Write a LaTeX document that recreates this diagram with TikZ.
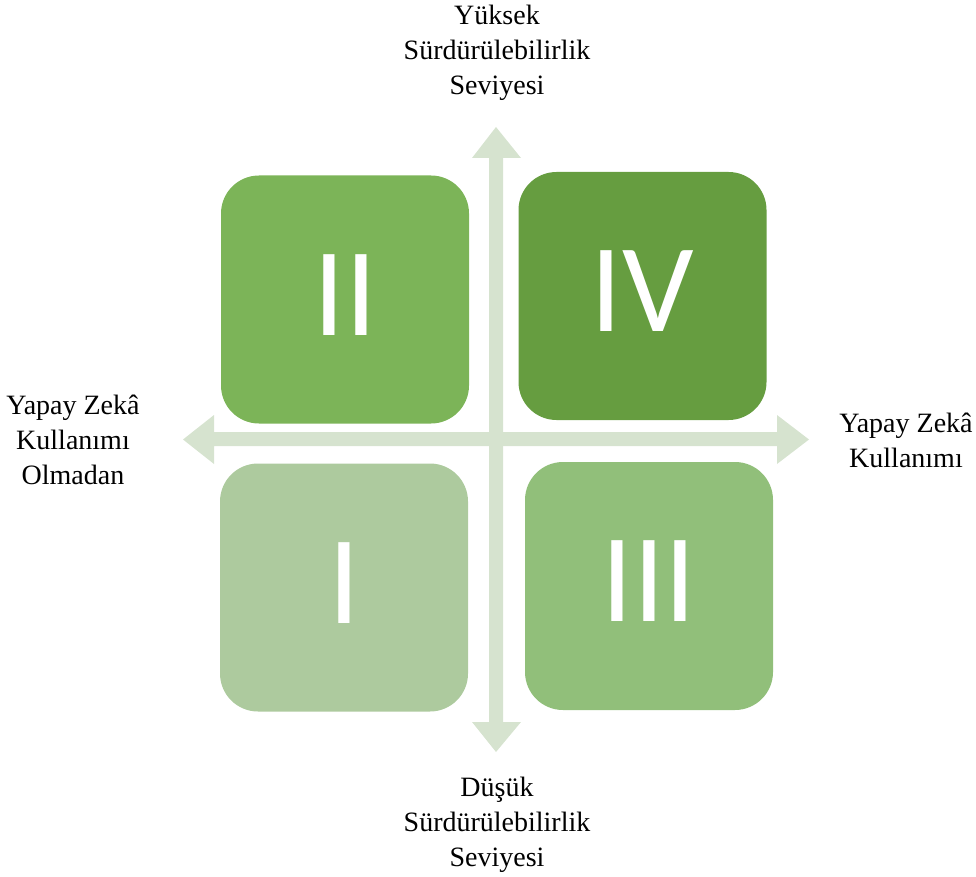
\documentclass[tikz,border=0pt]{standalone}
\usepackage{fontspec}
\setmainfont{Liberation Serif}
\newfontfamily\numfont{Carlito}
\definecolor{axisgreen}{RGB}{214,227,207}
\definecolor{quadone}{RGB}{173,202,158}
\definecolor{quadtwo}{RGB}{124,180,88}
\definecolor{quadthree}{RGB}{145,191,122}
\definecolor{quadfour}{RGB}{102,157,64}

\begin{document}
\begin{tikzpicture}[x=1pt, y=-1pt,
  axislabel/.style={align=center, inner sep=0pt, font=\fontsize{28}{35}\selectfont},
  quad/.style={rounded corners=38pt, minimum width=248pt, minimum height=248pt, inner sep=0pt,
    text=white, text depth=9pt, font=\numfont\fontsize{126}{126}\selectfont}]

  \useasboundingbox (0,0) rectangle (976,877);

  % ========== Axes ==========
  % vertical: sustainability level
  \fill[axisgreen] (489,158) -- (472,158) -- (496,127) -- (521,158) -- (503,158)
    -- (503,722) -- (521,722) -- (496,752) -- (472,722) -- (489,722) -- cycle;
  % horizontal: use of AI
  \fill[axisgreen] (214,432) -- (214,415) -- (183,439.5) -- (214,464) -- (214,446)
    -- (777,446) -- (777,464) -- (809,439.5) -- (777,415) -- (777,432) -- cycle;

  % ========== Quadrants ==========
  \node[quad, fill=quadtwo]   (q2) at (345,299.5) {II};
  \node[quad, fill=quadfour]  (q4) at (642.5,296) {IV};
  \node[quad, fill=quadone]   (q1) at (344,587.5) {I};
  \node[quad, fill=quadthree] (q3) at (649,586)   {III};

  % ========== Axis labels ==========
  \node[axislabel] (high)  at (497,53)    {Yüksek\\Sürdürülebilirlik\\Seviyesi};
  \node[axislabel] (low)   at (497,825)   {Düşük\\Sürdürülebilirlik\\Seviyesi};
  \node[axislabel] (noai)  at (73,440)    {Yapay Zekâ\\Kullanımı\\Olmadan};
  \node[axislabel] (ai)    at (906,440.5) {Yapay Zekâ\\Kullanımı};

\end{tikzpicture}
\end{document}
